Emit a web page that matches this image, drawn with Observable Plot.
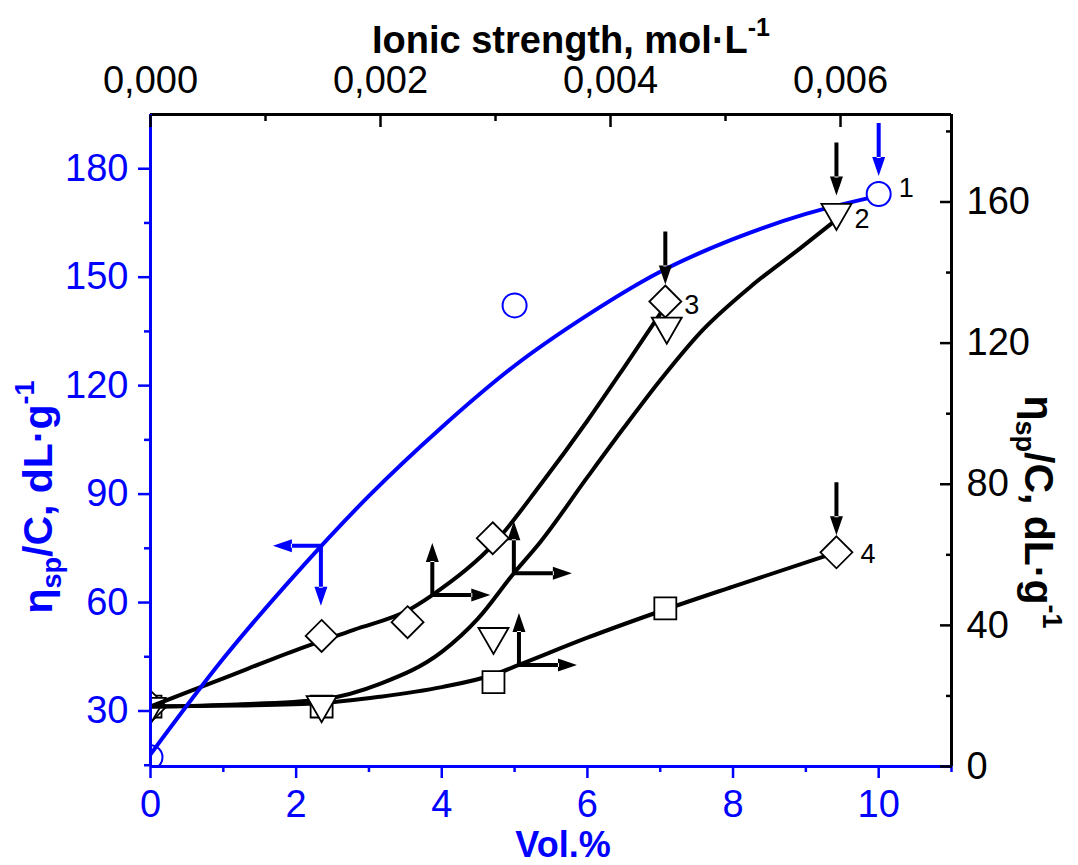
<!DOCTYPE html>
<html>
<head>
<meta charset="utf-8">
<script src="https://cdn.jsdelivr.net/npm/d3@7"></script>
<script src="https://cdn.jsdelivr.net/npm/@observablehq/plot@0.6"></script>
<style>body{margin:0;background:#fff}</style>
</head>
<body>
<div id="chart"></div>
<script>
const BLUE = "#0000ff";

// ---- axis domains and ticks ----
const volDomain = [0, 11];
const leftDomain = [14.65, 195.0];
const rightDomain = [0, 184.8];
const ionicDomain = [0, 0.006965];

const volTicks = [0, 2, 4, 6, 8, 10];
const volMinorTicks = [1, 3, 5, 7, 9, 11];
const leftTicks = [30, 60, 90, 120, 150, 180];
const leftMinorTicks = [15, 45, 75, 105, 135, 165];
const rightTicks = [0, 40, 80, 120, 160];
const rightMinorTicks = [20, 60, 100, 140, 180];
const ionicTicks = [0, 0.002, 0.004, 0.006];
const ionicTickLabels = ["0,000", "0,002", "0,004", "0,006"];
const ionicMinorTicks = [0.001, 0.003, 0.005];

// ---- series 1 (left axis), circles ----
const s1Vol = [0, 5.0, 10.0];
const s1Val = [17.2, 142.2, 173.0];
const curve1 = [[0, 18], [1, 44.5], [2, 68], [3, 89.5], [4, 108.5], [5, 125.5], [6, 139.5], [7, 151.5], [8, 160.5], [9, 167.5], [10, 172.5]];

// ---- series 2 (right axis), inverted triangles ----
const s2Vol = [0, 2.35, 4.71, 7.09, 9.42];
const s2Val = [17.0, 17.5, 36.8, 124.8, 157.0];
const curve2 = [[0, 17], [1.2, 17.6], [2.35, 19], [3.16, 23.5], [4, 32.5], [4.5, 42], [4.99, 54.8], [5.36, 63.8], [6, 82], [6.5, 96], [7, 109.5], [7.55, 123], [8.24, 136], [8.93, 147], [9.42, 155]];

// ---- series 3 (right axis), diamonds ----
const s3Vol = [0, 2.35, 3.53, 4.70, 7.07];
const s3Val = [17.0, 37.0, 40.9, 64.7, 131.8];
const curve3 = [[0, 17], [1, 25], [2, 33], [2.8, 38.8], [3.53, 44.2], [3.87, 48.6], [4.71, 63], [5.36, 80], [6, 98], [6.5, 113], [7.07, 130.5]];

// ---- series 4 (right axis), squares, last point diamond ----
const s4Vol = [0, 2.35, 4.71, 7.07];
const s4Val = [17.0, 17.0, 23.9, 44.8];
const s4EndVol = [9.42];
const s4EndVal = [60.7];
const curve4 = [[0, 17], [1.2, 17.3], [2.35, 18], [3.16, 19.8], [4, 22.5], [4.71, 26], [5.06, 28.8], [6, 36.5], [7.07, 44.5], [8, 51], [9.42, 60.7]];

// ---- arrows ----
const blueCornerArrow = [[2.34, 75.7]];                       // left axis
const blackCornerArrows = [[3.87, 48.6], [4.99, 54.8], [5.06, 28.8]]; // right axis
const blueDownArrow = [[10.0, 173.0]];                        // left axis
const blackDownArrows = [[9.42, 157.0], [7.07, 131.8], [9.42, 60.7]]; // right axis

// ---- curve labels ----
const curveLabels = ["1", "2", "3", "4"];

// conversions for secondary axes
const toLeft = d3.scaleLinear().domain(rightDomain).range(leftDomain);
const toVol = d3.scaleLinear().domain(ionicDomain).range(volDomain);

// custom symbols
const triDown = {
  draw(ctx, size) {
    const r = Math.sqrt(size / Math.PI);
    const w = 1.25 * r, t = 0.72 * r, b = 1.45 * r;
    ctx.moveTo(-w, -t); ctx.lineTo(w, -t); ctx.lineTo(0, b); ctx.closePath();
  }
};
const filledArrow = {
  draw(ctx, l) {
    const h = 19, w = 6.5, s = 2;
    ctx.moveTo(-s, 0); ctx.lineTo(s, 0); ctx.lineTo(s, -(l - h + 1)); ctx.lineTo(-s, -(l - h + 1)); ctx.closePath();
    ctx.moveTo(-w, -(l - h)); ctx.lineTo(0, -l); ctx.lineTo(w, -(l - h)); ctx.closePath();
  }
};

const px = d => d[0];
const pyL = d => d[1];
const pyR = d => toLeft(d[1]);

function dots(vols, vals, right, opts, zero) {
  return Plot.dot(vols, {
    x: d => d,
    y: (d, i) => right ? toLeft(vals[i]) : vals[i],
    filter: zero ? (d => d === 0) : (d => d !== 0),
    clip: "frame",
    ...opts
  });
}

const circOpts = {symbol: "circle", r: 12, stroke: BLUE, strokeWidth: 2, fill: "white"};
const triOpts = {symbol: triDown, r: 12, stroke: "black", strokeWidth: 1.8, fill: "white"};
const diaOpts = {symbol: "diamond2", r: 14.4, stroke: "black", strokeWidth: 1.8, fill: "white"};
const sqOpts = {symbol: "square", r: 12.4, stroke: "black", strokeWidth: 1.8, fill: "white"};

const lineOpts = {curve: "monotone-x", strokeWidth: 4, clip: "frame", strokeLinejoin: "round"};

const chart = Plot.plot({
  width: 1078, height: 865,
  marginLeft: 150, marginRight: 127, marginTop: 114, marginBottom: 99,
  style: {fontFamily: '"Liberation Sans", Arial, sans-serif', background: "#fff"},
  x: {domain: volDomain},
  y: {domain: leftDomain},
  marks: [
    // points at zero (drawn under the lines)
    dots(s4Vol, s4Val, true, sqOpts, true),
    dots(s3Vol, s3Val, true, diaOpts, true),
    dots(s2Vol, s2Val, true, triOpts, true),
    dots(s1Vol, s1Val, false, circOpts, true),
    // fitted curves
    Plot.line(curve4, {x: px, y: pyR, stroke: "black", ...lineOpts}),
    Plot.line(curve3, {x: px, y: pyR, stroke: "black", ...lineOpts}),
    Plot.line(curve2, {x: px, y: pyR, stroke: "black", ...lineOpts}),
    Plot.line(curve1, {x: px, y: pyL, stroke: BLUE, ...lineOpts}),
    // markers
    dots(s1Vol, s1Val, false, circOpts, false),
    dots(s3Vol, s3Val, true, diaOpts, false),
    dots(s4Vol, s4Val, true, sqOpts, false),
    Plot.dot(s4EndVol, {x: d => d, y: (d, i) => toLeft(s4EndVal[i]), ...diaOpts}),
    dots(s2Vol, s2Val, true, triOpts, false),
    // arrows
    Plot.vector(blueCornerArrow, {x: px, y: pyL, rotate: 270, length: 48, anchor: "start", shape: filledArrow, fill: BLUE, stroke: "none"}),
    Plot.vector(blueCornerArrow, {x: px, y: pyL, rotate: 180, length: 60, anchor: "start", shape: filledArrow, fill: BLUE, stroke: "none"}),
    Plot.vector(blackCornerArrows, {x: px, y: pyR, rotate: 0, length: 52, anchor: "start", shape: filledArrow, fill: "black", stroke: "none"}),
    Plot.vector(blackCornerArrows, {x: px, y: pyR, rotate: 90, length: 58, anchor: "start", shape: filledArrow, fill: "black", stroke: "none"}),
    Plot.vector(blueDownArrow, {x: px, y: pyL, rotate: 180, length: 53, anchor: "end", dy: -18, shape: filledArrow, fill: BLUE, stroke: "none"}),
    Plot.vector(blackDownArrows, {x: px, y: pyR, rotate: 180, length: 53, anchor: "end", dy: -17, shape: filledArrow, fill: "black", stroke: "none"}),
    // curve labels
    Plot.text([curveLabels[0]], {x: s1Vol[2], y: s1Val[2], text: d => d, dx: 20, dy: -6, textAnchor: "start", fontSize: 27, fill: "black"}),
    Plot.text([curveLabels[1]], {x: s2Vol[4], y: toLeft(s2Val[4]), text: d => d, dx: 18, dy: 7, textAnchor: "start", fontSize: 27, fill: "black"}),
    Plot.text([curveLabels[2]], {x: s3Vol[4], y: toLeft(s3Val[4]), text: d => d, dx: 19, dy: 4, textAnchor: "start", fontSize: 27, fill: "black"}),
    Plot.text([curveLabels[3]], {x: s4EndVol[0], y: toLeft(s4EndVal[0]), text: d => d, dx: 24, dy: 2, textAnchor: "start", fontSize: 27, fill: "black"}),
    // frame lines
    Plot.ruleY([leftDomain[1]], {stroke: "black", strokeWidth: 3}),
    Plot.ruleX([volDomain[1]], {stroke: "black", strokeWidth: 3}),
    Plot.ruleY([leftDomain[0]], {stroke: BLUE, strokeWidth: 3}),
    Plot.ruleX([volDomain[0]], {stroke: BLUE, strokeWidth: 3}),
    // bottom axis (blue)
    Plot.axisX({anchor: "bottom", ticks: volTicks, tickSize: 12, tickPadding: 12, strokeWidth: 2.5, color: BLUE, fontSize: 38, label: null, tickFormat: d => String(d)}),
    Plot.axisX({anchor: "bottom", ticks: volMinorTicks, tickSize: 6, strokeWidth: 2.5, color: BLUE, text: null, label: null}),
    // top axis (black, ticks inward)
    Plot.axisX({anchor: "top", ticks: ionicTicks.map(toVol), tickSize: 12, dy: 12, strokeWidth: 2.5, color: "black", text: null, label: null}),
    Plot.axisX({anchor: "top", ticks: ionicMinorTicks.map(toVol), tickSize: 6, dy: 6, strokeWidth: 2.5, color: "black", text: null, label: null}),
    Plot.axisX({anchor: "top", ticks: ionicTicks.map(toVol), tickSize: 0, tickPadding: 22, color: "black", fontSize: 38, label: null,
      tickFormat: d => ionicTickLabels[d3.minIndex(ionicTicks, t => Math.abs(toVol(t) - d))]}),
    // left axis (blue)
    Plot.axisY({anchor: "left", ticks: leftTicks, tickSize: 12, tickPadding: 10, strokeWidth: 2.5, color: BLUE, fontSize: 38, label: null, tickFormat: d => String(d)}),
    Plot.axisY({anchor: "left", ticks: leftMinorTicks, tickSize: 6, strokeWidth: 2.5, color: BLUE, text: null, label: null}),
    // right axis (black, ticks inward)
    Plot.axisY({anchor: "right", ticks: rightTicks.map(toLeft), tickSize: 12, dx: -12, strokeWidth: 2.5, color: "black", text: null, label: null}),
    Plot.axisY({anchor: "right", ticks: rightMinorTicks.map(toLeft), tickSize: 6, dx: -6, strokeWidth: 2.5, color: "black", text: null, label: null}),
    Plot.axisY({anchor: "right", ticks: rightTicks.map(toLeft), tickSize: 0, tickPadding: 15, color: "black", fontSize: 38, label: null,
      tickFormat: d => String(rightTicks[d3.minIndex(rightTicks, t => Math.abs(toLeft(t) - d))])})
  ]
});

document.getElementById("chart").appendChild(chart);

// axis titles with sub/superscripts
const svg = d3.select(chart);
const title = svg.append("text")
  .attr("x", 571).attr("y", 53)
  .attr("text-anchor", "middle").attr("font-weight", "bold").attr("font-size", 38)
  .attr("fill", "black");
title.append("tspan").text("Ionic strength, mol·L");
title.append("tspan").attr("font-size", 25).attr("dy", -17).text("-1");

function etaLabel(transform, color) {
  const t = svg.append("text")
    .attr("transform", transform)
    .attr("text-anchor", "middle").attr("font-weight", "bold").attr("font-size", 41)
    .attr("fill", color);
  t.append("tspan").text("η");
  t.append("tspan").attr("font-size", 27).attr("dy", 9).text("sp");
  t.append("tspan").attr("dy", -9).text("/C, dL·g");
  t.append("tspan").attr("font-size", 27).attr("dy", -18).text("-1");
}
etaLabel("translate(52,497) rotate(-90)", BLUE);
etaLabel("translate(1025,512) rotate(90)", "black");

svg.append("text")
  .attr("x", 563).attr("y", 857)
  .attr("text-anchor", "middle").attr("font-weight", "bold").attr("font-size", 36)
  .attr("fill", BLUE).text("Vol.%");
</script>
</body>
</html>
